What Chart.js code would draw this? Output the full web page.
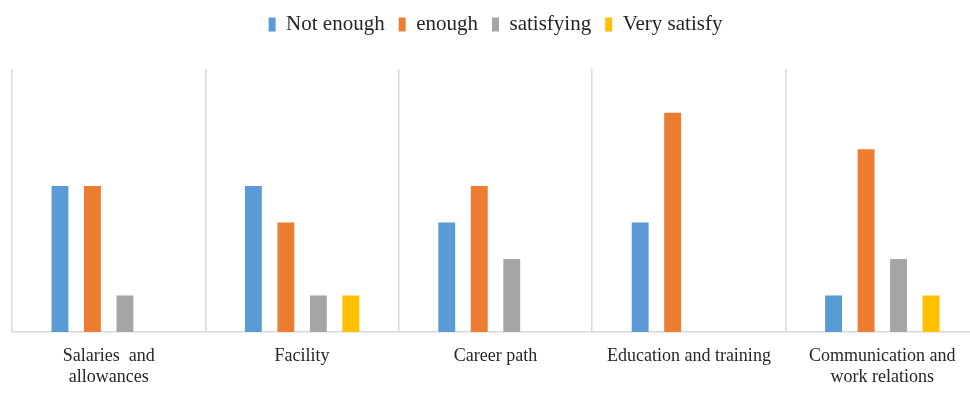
<!DOCTYPE html>
<html>
<head>
<meta charset="utf-8">
<script src="https://cdn.jsdelivr.net/npm/chart.js@4/dist/chart.umd.min.js"></script>
<style>
  html, body { margin: 0; padding: 0; background: #ffffff; overflow: hidden; }
  #wrap { position: relative; width: 990px; height: 394px; }
</style>
</head>
<body>
<div id="wrap"><canvas id="satisfactionChart"></canvas></div>
<script>
const categories = [
    ['Salaries  and', 'allowances'],
    'Facility',
    'Career path',
    'Education and training',
    ['Communication and', 'work relations']
];
const notEnough = [4, 4, 3, 3, 1];
const enough = [4, 3, 4, 6, 5];
const satisfying = [1, 1, 2, 0, 2];
const verySatisfy = [0, 1, 0, 0, 1];

const serif = "'Liberation Serif', 'Times New Roman', serif";

// extra room under the legend so the plot starts lower
const legendGap = {
    id: 'legendGap',
    beforeInit(chart) {
        const fit = chart.legend.fit;
        chart.legend.fit = function () {
            fit.bind(chart.legend)();
            this.height += 24;
        };
    }
};

document.addEventListener('DOMContentLoaded', function () {
    const ctx = document.getElementById('satisfactionChart').getContext('2d');
    new Chart(ctx, {
        type: 'bar',
        data: {
            labels: categories,
            datasets: [
                { label: 'Not enough', data: notEnough, backgroundColor: '#5B9BD5' },
                { label: 'enough', data: enough, backgroundColor: '#ED7D31' },
                { label: 'satisfying', data: satisfying, backgroundColor: '#A5A5A5' },
                { label: 'Very satisfy', data: verySatisfy, backgroundColor: '#FFC000' }
            ]
        },
        options: {
            responsive: true,
            maintainAspectRatio: false,
            animation: false,
            categoryPercentage: 0.672,
            barPercentage: 0.52,
            layout: {
                padding: { left: 12, right: 11, top: 0, bottom: 0 }
            },
            scales: {
                x: {
                    grid: {
                        display: true,
                        offset: true,
                        color: '#d9d9d9',
                        lineWidth: 1.5,
                        drawTicks: false
                    },
                    border: { display: true, color: '#d9d9d9', width: 1.5 },
                    ticks: {
                        color: '#262626',
                        padding: 13,
                        maxRotation: 0,
                        autoSkip: false,
                        font: { family: serif, size: 18, lineHeight: 1.2 }
                    },
                    afterFit: function (scale) { scale.height = 62; }
                },
                y: {
                    display: false,
                    min: 0,
                    max: 7.2
                }
            },
            plugins: {
                legend: {
                    position: 'top',
                    labels: {
                        color: '#262626',
                        boxWidth: 7,
                        boxHeight: 14,
                        padding: 14,
                        font: { family: serif, size: 21 }
                    }
                },
                tooltip: { enabled: false }
            }
        },
        plugins: [legendGap]
    });
});
</script>
</body>
</html>
